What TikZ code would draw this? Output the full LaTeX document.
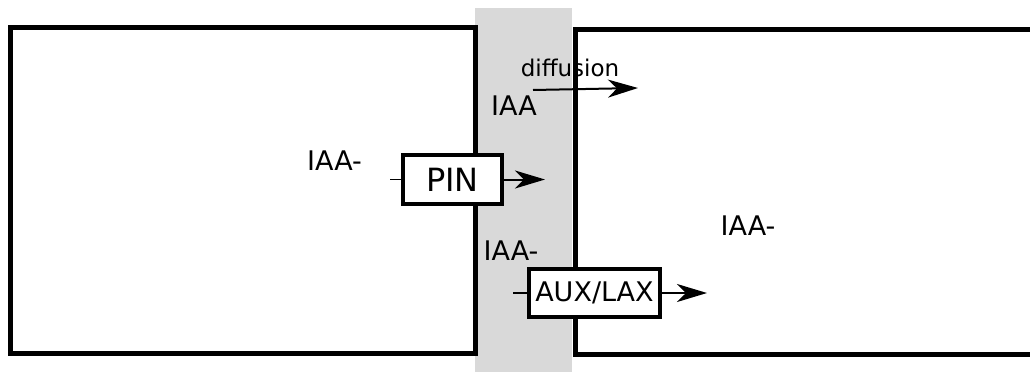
\documentclass[tikz,border=0pt]{standalone}
\usepackage{fontspec}
\setmainfont{DejaVu Sans}
\usetikzlibrary{arrows.meta}

\begin{document}
\begin{tikzpicture}[x=1pt,y=-1pt,
        wall/.style={line width=5pt},
        carrier/.style={draw,line width=4pt,fill=white,inner sep=0pt},
        flow/.style={-{Stealth[length=30pt,width=18pt,inset=9pt]},line width=2pt},
        lbl/.style={font=\fontsize{27}{32}\selectfont,inner sep=0pt}]
        \clip (0,0) rectangle (1030,372);
        % membrane between the two cells
        \fill[gray!30] (475,8) rectangle (572,372);
        \draw[wall] (10,27) rectangle (475.5,353);
        \draw[wall] (1040,29.5) -- (575,29.5) -- (575,354.5) -- (1040,354.5);
        % carriers
        \node[carrier,minimum width=99pt,minimum height=49pt,font=\fontsize{32}{38}\selectfont] (pin) at (452.5,179.5) {PIN};
        \node[carrier,minimum width=131pt,minimum height=47.5pt,font=\fontsize{27}{32}\selectfont] (aux) at (594.5,293) {AUX/LAX};
        \coordinate (pinin) at (390,179.5);
        \coordinate (pinout) at (545,179.5);
        \coordinate (auxin) at (513,293);
        \coordinate (auxout) at (707,293);
        \draw[line width=1.5pt] (pinin) -- (pin.west);
        \draw[flow] (pin.east) -- (pinout);
        \draw[line width=1.5pt] (auxin) -- (aux.west);
        \draw[flow] (aux.east) -- (auxout);
        % diffusion of IAA
        \coordinate (diffin) at (533,90);
        \coordinate (diffout) at (638,88);
        \draw[flow] (diffin) -- (diffout);
        \node[inner sep=0pt,font=\fontsize{23}{28}\selectfont] (diff) at (570,68.3) {diffusion};
        % auxin labels
        \node[lbl] (iaaleft) at (334.5,161) {IAA-};
        \node[lbl] (iaawall) at (514,106) {IAA};
        \node[lbl] (iaamid) at (511,250.5) {IAA-};
        \node[lbl] (iaaright) at (748,225.5) {IAA-};
    \end{tikzpicture}
\end{document}
